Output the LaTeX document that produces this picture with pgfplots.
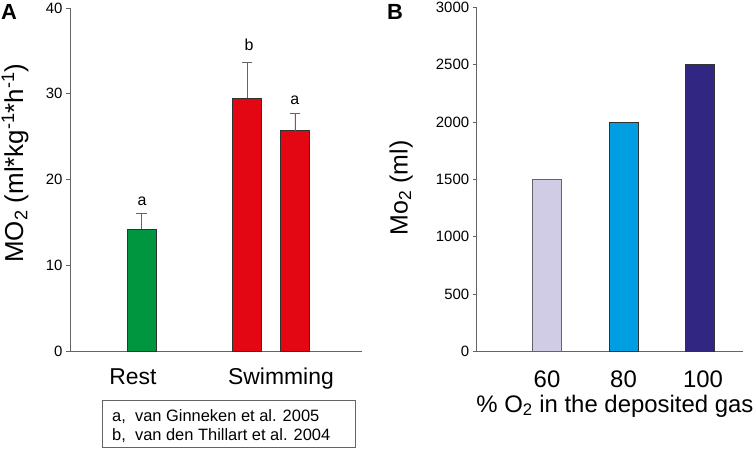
\documentclass[border=0pt]{standalone}
\usepackage{pgfplots}
\pgfplotsset{compat=1.18}
\usepackage{fontspec}
\setmainfont{Liberation Sans}
\definecolor{bargreen}{RGB}{0,150,64}
\definecolor{barred}{RGB}{227,6,19}
\definecolor{barlav}{RGB}{208,204,230}
\definecolor{barlblue}{RGB}{0,159,227}
\definecolor{bardblue}{RGB}{49,39,131}
\definecolor{axisgray}{RGB}{100,100,100}
\definecolor{edgedark}{RGB}{50,50,50}
\begin{document}
\begin{tikzpicture}
\useasboundingbox (0,0) rectangle (756bp,451bp);
\pgfplotsset{
  common/.style={
    scale only axis,
    anchor=south west,
    axis x line*=bottom, axis y line*=left,
    axis line style={draw=axisgray, line width=0.8bp},
    x tick style={draw=none},
    y tick style={draw=axisgray, line width=0.8bp},
    major tick length=4bp, tick align=outside,
    /pgf/number format/assume math mode=true,
    /pgf/number format/1000 sep={},
    yticklabel style={font=\fontsize{15}{15}\selectfont, text=black},
    ybar, bar shift=0pt,
    clip=false,
  },
  errstyle/.style={
    error bars/.cd, y dir=plus, y explicit,
    error mark=-,
    error bar style={draw=axisgray, line width=0.8bp, solid},
    error mark options={draw=axisgray, line width=0.8bp, mark size=5.3bp, solid, rotate=90},
  }
}
% ---------------- Panel A
\begin{axis}[common,
  at={(70bp,100bp)}, width=292bp, height=343bp,
  xmin=-0.552, xmax=1.703, ymin=0, ymax=40,
  ytick={0,10,20,30,40},
  xtick={-0.066,1.077}, xticklabels={Rest,Swimming},
  xticklabel style={font=\fontsize{23}{23}\selectfont, anchor=base, yshift=-30bp},
  bar width=0.224,
  ylabel={MO\textsubscript{2} (ml*kg\textsuperscript{-1}*h\textsuperscript{-1})},
  ylabel style={font=\fontsize{26}{26}\selectfont, at={(axis description cs:-0.188,0.548)}, anchor=center},
]
\addplot[fill=bargreen, draw=edgedark, line width=0.8bp, errstyle]
  coordinates {(0,14.2) +- (0,1.8)};
\addplot[fill=barred, draw=edgedark, line width=0.8bp, errstyle]
  coordinates {(0.815,29.5) +- (0,4.2) (1.185,25.7) +- (0,2.0)};
\node[font=\fontsize{16}{16}\selectfont, anchor=base] at (axis cs:0.004,17.0) {a};
\node[font=\fontsize{16}{16}\selectfont, anchor=base] at (axis cs:0.830,35.0) {b};
\node[font=\fontsize{16}{16}\selectfont, anchor=base] at (axis cs:1.185,28.8) {a};
\end{axis}
% legend box of panel A
\draw[axisgray, line width=0.8bp] (102bp,4bp) rectangle (355bp,51bp);
\node[font=\fontsize{16.5}{16.5}\selectfont, anchor=base west, inner sep=0pt] at (112bp,30bp) {a,\ \ van Ginneken et al. 2005};
\node[font=\fontsize{16.5}{16.5}\selectfont, anchor=base west, inner sep=0pt] at (112bp,11bp) {b,\ \ van den Thillart et al. 2004};
\node[font=\fontsize{22}{22}\selectfont\bfseries, anchor=base west, inner sep=0pt] at (1bp,431bp) {A};
% ---------------- Panel B
\begin{axis}[common,
  at={(476.7bp,99.7bp)}, width=266.3bp, height=344bp,
  xmin=0.081, xmax=3.562, ymin=0, ymax=3000,
  ytick={0,500,1000,1500,2000,2500,3000},
  xtick={1,2,3.04}, xticklabels={60,80,100},
  xticklabel style={font=\fontsize{24}{24}\selectfont, anchor=base, yshift=-32bp},
  bar width=0.379,
  ylabel={Mo\textsubscript{2} (ml)},
  ylabel style={font=\fontsize{25}{25}\selectfont, at={(axis description cs:-0.284,0.475)}, anchor=center},
  xlabel={\% O\textsubscript{2} in the deposited gas},
  xlabel style={font=\fontsize{24}{24}\selectfont, at={(axis description cs:0.519,-0.1765)}, anchor=base},
]
\addplot[fill=barlav, draw=axisgray, line width=0.8bp] coordinates {(1,1500)};
\addplot[fill=barlblue, draw=edgedark, line width=0.8bp] coordinates {(2,2000)};
\addplot[fill=bardblue, draw=edgedark, line width=0.8bp] coordinates {(3,2500)};
\end{axis}
\node[font=\fontsize{22}{22}\selectfont\bfseries, anchor=base west, inner sep=0pt] at (387bp,431bp) {B};
\end{tikzpicture}
\end{document}
